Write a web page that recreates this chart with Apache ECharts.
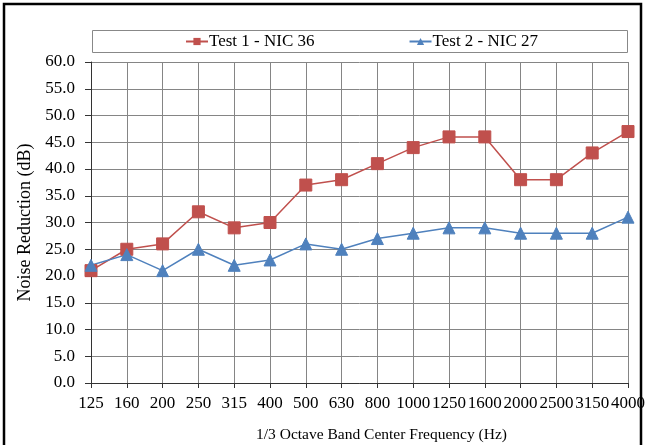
<!DOCTYPE html>
<html><head><meta charset="utf-8">
<script src="https://cdn.jsdelivr.net/npm/echarts@6/dist/echarts.min.js"></script>
<style>html,body{margin:0;padding:0;background:#fff}#c{width:645px;height:445px}</style>
</head><body><div id="c"></div>
<script>
var categories = ['125','160','200','250','315','400','500','630','800','1000','1250','1600','2000','2500','3150','4000'];
var test1 = [21,25,26,32,29,30,37,38,41,44,46,46,38,38,43,47];
var test2 = [22,24,21,25,22,23,26,25,27,28,29,29,28,28,28,31];
var seriesNames = ['Test 1 - NIC 36','Test 2 - NIC 27'];
var xTitle = '1/3 Octave Band Center Frequency (Hz)';
var yTitle = 'Noise Reduction (dB)';

var font = '"Liberation Serif","Times New Roman",serif';
var chart = echarts.init(document.getElementById('c'), null, {renderer:'canvas'});
chart.setOption({
  animation:false,
  backgroundColor:'#fff',
  textStyle:{fontFamily:font},
  graphic:[
    {type:'rect', shape:{x:4,y:4,width:637,height:460}, style:{fill:'none',stroke:'#000',lineWidth:2.5}, silent:true},
    {type:'rect', shape:{x:92.5,y:30.5,width:535,height:22}, style:{fill:'none',stroke:'#888',lineWidth:1}, silent:true}
  ],
  legend:{
    top:33, left:185, itemGap:94, itemWidth:22, itemHeight:9, padding:0,
    textStyle:{fontFamily:font,fontSize:17,color:'#000',padding:[0,0,0,-4]},
    data:seriesNames
  },
  grid:{left:91,right:17,top:62,bottom:62,outerBoundsMode:'none',containLabel:false},
  xAxis:{
    type:'category', data:categories, boundaryGap:false,
    name:xTitle, nameLocation:'middle', nameGap:44,
    nameTextStyle:{fontFamily:font,fontSize:15.5,color:'#000',padding:[0,0,0,44]},
    axisLine:{lineStyle:{color:'#333',width:1}},
    axisTick:{show:true,length:5,lineStyle:{color:'#333'}},
    axisLabel:{fontFamily:font,fontSize:17,color:'#000',margin:12,interval:0},
    splitLine:{show:true,lineStyle:{color:'#858585',width:1}}
  },
  yAxis:{
    type:'value', min:0, max:60, interval:5,
    name:yTitle, nameLocation:'middle', nameGap:52,
    nameTextStyle:{fontFamily:font,fontSize:18,color:'#000'},
    axisLine:{show:true,lineStyle:{color:'#333',width:1}},
    axisTick:{show:true,length:6,lineStyle:{color:'#333'}},
    axisLabel:{fontFamily:font,fontSize:17,color:'#000',margin:16,formatter:function(v){return v.toFixed(1);}},
    splitLine:{show:true,lineStyle:{color:'#858585',width:1}}
  },
  series:[
    {name:seriesNames[0], type:'line', data:test1, symbol:'rect', symbolSize:12,
     lineStyle:{color:'#C0504D',width:1.5}, itemStyle:{color:'#C0504D',borderColor:'#C0504D'}},
    {name:seriesNames[1], type:'line', data:test2, symbol:'triangle', symbolSize:12,
     lineStyle:{color:'#4F81BD',width:1.5}, itemStyle:{color:'#4F81BD',borderColor:'#4F81BD'}}
  ]
});
</script></body></html>
